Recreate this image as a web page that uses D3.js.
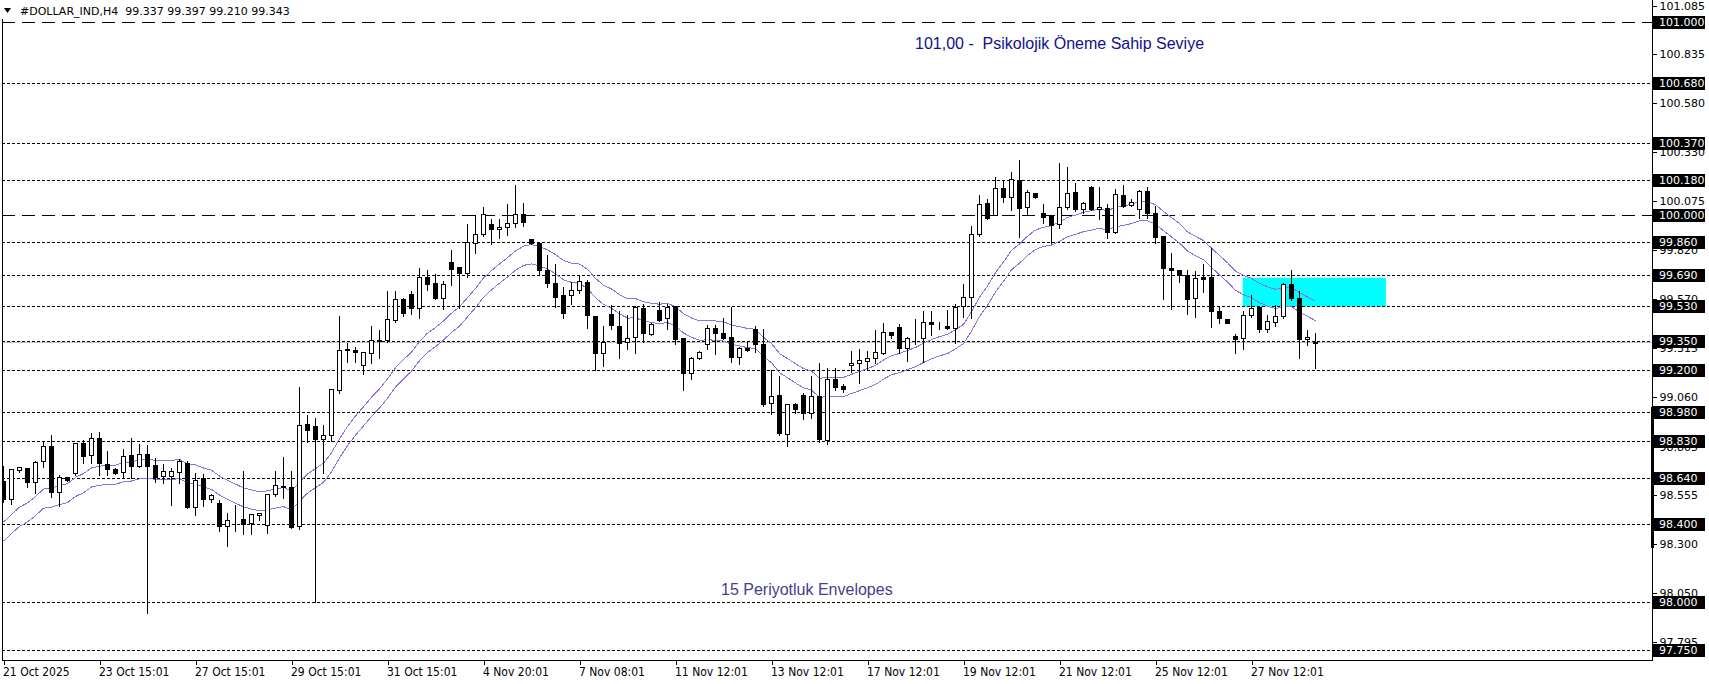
<!DOCTYPE html>
<html><head><meta charset="utf-8">
<script src="https://cdn.jsdelivr.net/npm/d3@7"></script>
<style>
html,body{margin:0;padding:0;background:#fff;overflow:hidden}
svg{display:block}
</style></head><body>
<svg id="chart" width="1709" height="684"></svg>
<script>
// ---------- DATA ----------
const symbolTitle = "#DOLLAR_IND,H4  99.337 99.397 99.210 99.343";
const opens = [98.624,98.530,98.681,98.690,98.621,98.725,98.806,98.569,98.647,98.664,98.823,98.759,98.846,98.711,98.685,98.669,98.759,98.704,98.764,98.707,
98.652,98.652,98.673,98.719,98.492,98.638,98.530,98.509,98.391,98.426,98.426,98.408,98.446,98.395,98.555,98.595,98.595,98.391,98.917,98.908,
98.839,98.860,99.093,99.305,99.300,99.222,99.284,99.350,99.352,99.455,99.564,99.590,99.517,99.679,99.646,99.572,99.759,99.731,99.698,99.857,
99.900,99.952,99.926,99.940,99.960,100.003,99.874,99.857,99.715,99.646,99.584,99.584,99.610,99.653,99.477,99.284,99.486,99.426,99.343,99.369,
99.521,99.386,99.507,99.465,99.529,99.362,99.181,99.262,99.331,99.417,99.391,99.369,99.267,99.310,99.409,99.331,99.029,99.069,98.869,99.021,
99.069,98.977,99.064,98.834,99.150,99.114,99.222,99.236,99.245,99.262,99.288,99.395,99.421,99.314,99.362,99.362,99.446,99.431,99.426,99.414,
99.529,99.576,99.900,100.060,100.002,100.138,100.090,100.181,100.043,100.112,100.009,99.995,99.952,100.043,100.116,100.029,100.145,100.029,100.038,99.914,
100.104,100.052,100.029,100.121,100.009,99.891,99.724,99.715,99.688,99.569,99.679,99.679,99.503,99.460,99.374,99.365,99.481,99.526,99.409,99.448,
99.478,99.645,99.569,99.357,99.337];
const highs = [98.707,98.685,98.695,98.699,98.733,98.830,98.868,98.659,98.650,98.828,98.840,98.875,98.884,98.785,98.695,98.794,98.854,98.823,98.816,98.747,
98.719,98.699,98.742,98.733,98.673,98.668,98.564,98.530,98.463,98.503,98.681,98.455,98.460,98.558,98.681,98.753,98.681,99.115,98.972,98.955,
98.917,99.107,99.483,99.345,99.322,99.296,99.431,99.409,99.612,99.612,99.576,99.612,99.730,99.720,99.700,99.664,99.822,99.733,99.960,100.003,
100.047,99.983,99.986,100.060,100.159,100.067,99.877,99.862,99.796,99.750,99.633,99.659,99.688,99.667,99.483,99.431,99.538,99.507,99.486,99.533,
99.546,99.448,99.555,99.547,99.535,99.365,99.271,99.300,99.434,99.434,99.472,99.529,99.322,99.352,99.431,99.414,99.202,99.172,99.024,99.033,
99.084,99.172,99.241,99.214,99.215,99.129,99.302,99.310,99.302,99.409,99.446,99.400,99.440,99.374,99.469,99.509,99.509,99.452,99.515,99.543,
99.650,99.947,100.107,100.086,100.202,100.185,100.228,100.288,100.133,100.116,100.060,100.000,100.276,100.254,100.171,100.072,100.154,100.150,100.064,100.141,
100.162,100.085,100.136,100.147,100.050,99.895,99.809,99.719,99.722,99.714,99.750,99.834,99.533,99.469,99.391,99.509,99.590,99.529,99.486,99.538,
99.653,99.719,99.610,99.409,99.397];
const lows = [98.517,98.505,98.673,98.595,98.561,98.699,98.543,98.495,98.626,98.656,98.716,98.716,98.656,98.656,98.661,98.638,98.638,98.694,97.942,98.621,
98.616,98.500,98.612,98.483,98.448,98.495,98.517,98.365,98.288,98.365,98.348,98.348,98.420,98.357,98.546,98.538,98.379,98.374,98.827,98.000,
98.667,98.831,99.081,99.241,99.241,99.179,99.236,99.262,99.343,99.448,99.478,99.486,99.469,99.610,99.564,99.512,99.638,99.521,99.679,99.805,
99.891,99.848,99.883,99.897,99.940,99.943,99.848,99.688,99.629,99.526,99.469,99.541,99.598,99.414,99.196,99.219,99.409,99.258,99.308,99.288,
99.345,99.379,99.452,99.409,99.334,99.093,99.150,99.253,99.309,99.279,99.357,99.241,99.231,99.296,99.293,99.012,98.972,98.862,98.805,98.974,
98.943,98.948,98.826,98.817,99.095,99.084,99.190,99.133,99.202,99.236,99.279,99.365,99.288,99.245,99.331,99.240,99.377,99.409,99.409,99.336,
99.474,99.469,99.891,99.978,99.998,100.069,100.024,99.888,99.998,100.086,99.960,99.857,99.934,100.033,100.021,100.012,100.024,99.978,99.883,99.905,
100.041,100.047,99.986,99.986,99.853,99.567,99.515,99.655,99.486,99.474,99.603,99.422,99.440,99.440,99.288,99.309,99.474,99.396,99.396,99.426,
99.469,99.560,99.262,99.328,99.210];
const closes = [98.530,98.685,98.695,98.621,98.721,98.806,98.569,98.647,98.630,98.820,98.751,98.846,98.716,98.685,98.668,98.751,98.704,98.763,98.704,98.647,
98.678,98.676,98.728,98.488,98.630,98.530,98.550,98.391,98.420,98.426,98.403,98.451,98.457,98.555,98.601,98.597,98.386,98.912,98.888,98.839,
98.860,99.098,99.300,99.300,99.293,99.291,99.352,99.354,99.460,99.564,99.495,99.517,99.679,99.641,99.572,99.641,99.722,99.698,99.862,99.900,
100.003,99.929,99.940,99.957,100.003,99.965,99.853,99.714,99.650,99.577,99.495,99.612,99.659,99.481,99.288,99.345,99.429,99.336,99.362,99.526,
99.388,99.434,99.457,99.524,99.357,99.184,99.262,99.293,99.417,99.391,99.365,99.267,99.310,99.300,99.331,99.024,99.064,98.871,99.021,98.998,
98.974,99.064,98.839,99.150,99.112,99.102,99.234,99.248,99.259,99.290,99.395,99.381,99.310,99.362,99.364,99.446,99.434,99.431,99.414,99.526,
99.578,99.900,100.055,99.986,100.138,100.090,100.185,100.038,100.119,100.090,99.991,99.948,100.043,100.112,100.029,100.064,100.029,100.043,99.912,100.107,
100.047,100.069,100.121,100.012,99.888,99.728,99.714,99.688,99.564,99.672,99.671,99.503,99.469,99.443,99.360,99.481,99.517,99.412,99.452,99.478,
99.645,99.572,99.357,99.369,99.343];

const xLabels = ["21 Oct 2025","23 Oct 15:01","27 Oct 15:01","29 Oct 15:01","31 Oct 15:01","4 Nov 20:01","7 Nov 08:01",
  "11 Nov 12:01","13 Nov 12:01","17 Nov 12:01","19 Nov 12:01","21 Nov 12:01","25 Nov 12:01","27 Nov 12:01"];
const xLabelBars = [0,12,24,36,48,60,72,84,96,108,120,132,144,156];
const priceTicks = [101.085,100.835,100.580,100.330,100.075,99.820,99.570,99.315,99.060,98.805,98.555,98.300,98.050,97.795];
const levelLines = [101.000,100.680,100.370,100.180,100.000,99.860,99.690,99.530,99.350,99.200,98.980,98.830,98.640,98.400,98.000,97.750];
const psychoLevels = [101.000,100.000];
const bidPrice = 99.343;
const envelopePeriod = 15;
const envelopeDeviationPct = 0.05;
const envelopeStart = 98.362;       // EMA value at the first visible bar
const zoneBars = [154.9, 172.8];
const zonePrices = [99.525, 99.675];
const noteTop = "101,00 -  Psikolojik Öneme Sahip Seviye";
const noteBottom = "15 Periyotluk Envelopes";

// ---------- LAYOUT ----------
const W = 1709, H = 684;
const plotRight = 1652, plotBottom = 660;
const svg = d3.select("#chart");
const n = closes.length;

const x = d3.scaleLinear().domain([0, 164]).range([3.5, 3.5 + 8 * 164]);
const y = d3.scaleLinear().domain([97.75, 101.0]).range([650.05, 21.5]);
const py = v => Math.round(y(v)) + 0.5;

svg.append("rect").attr("width", W).attr("height", H).attr("fill", "#fff");

svg.append("defs").append("clipPath").attr("id", "plotclip")
  .append("rect").attr("x", 2).attr("y", 0).attr("width", plotRight - 2).attr("height", plotBottom);

const plot = svg.append("g").attr("clip-path", "url(#plotclip)");

// zone
plot.append("rect")
  .attr("x", x(zoneBars[0])).attr("width", x(zoneBars[1]) - x(zoneBars[0]))
  .attr("y", y(zonePrices[1])).attr("height", y(zonePrices[0]) - y(zonePrices[1]))
  .attr("fill", "#00FFFF");

// level lines
plot.selectAll("line.level").data(levelLines).join("line")
  .attr("class", "level")
  .attr("x1", 2).attr("x2", plotRight)
  .attr("y1", d => py(d)).attr("y2", d => py(d))
  .attr("stroke", "#000").attr("stroke-width", 1)
  .attr("shape-rendering", "crispEdges")
  .attr("stroke-dasharray", d => psychoLevels.includes(d) ? "13,7" : "3,2");

// bid line
plot.append("line")
  .attr("x1", 2).attr("x2", plotRight)
  .attr("y1", py(bidPrice)).attr("y2", py(bidPrice))
  .attr("stroke", "#C0C0C0").attr("stroke-width", 1).attr("shape-rendering", "crispEdges");

// envelopes: EMA(15) of close, +/- deviation
const alpha = 2 / (envelopePeriod + 1);
const mid = [];
closes.forEach((c, i) => {
  mid.push(i === 0 ? envelopeStart : mid[i - 1] + alpha * (c - mid[i - 1]));
});
const upper = mid.map(m => m * (1 + envelopeDeviationPct / 100));
const lower = mid.map(m => m * (1 - envelopeDeviationPct / 100));
const envLine = d3.line().x((d, i) => x(i)).y(d => y(d));
[upper, lower].forEach(arr => {
  plot.append("path").datum(arr).attr("d", envLine)
    .attr("fill", "none").attr("stroke", "#9370DB").attr("stroke-width", 1)
    .attr("shape-rendering", "crispEdges");
});

// candles
const idx = d3.range(n);
const cg = plot.append("g").attr("shape-rendering", "crispEdges");
cg.selectAll("line.wick").data(idx).join("line")
  .attr("x1", i => x(i)).attr("x2", i => x(i))
  .attr("y1", i => py(highs[i])).attr("y2", i => py(lows[i]) + 0.5)
  .attr("stroke", "#000").attr("stroke-width", 1);
cg.selectAll("rect.body").data(idx).join("rect")
  .attr("x", i => x(i) - 2).attr("width", 4)
  .attr("y", i => py(Math.max(opens[i], closes[i])))
  .attr("height", i => Math.max(0, py(Math.min(opens[i], closes[i])) - py(Math.max(opens[i], closes[i]))))
  .attr("fill", i => closes[i] >= opens[i] ? "#fff" : "#000")
  .attr("stroke", "#000").attr("stroke-width", 1);

// annotations
svg.append("text").text(noteTop)
  .attr("x", 915).attr("y", 43).attr("dy", "0.35em")
  .style("white-space", "pre")
  .attr("font-family", "'Liberation Sans', Arial, sans-serif").attr("font-size", 16)
  .attr("fill", "#10108c");
svg.append("text").text(noteBottom)
  .attr("x", 721).attr("y", 589).attr("dy", "0.35em")
  .attr("font-family", "'Liberation Sans', Arial, sans-serif").attr("font-size", 16)
  .attr("fill", "#483D8B");

// frame
svg.append("rect").attr("x", 0).attr("y", 0).attr("width", 300).attr("height", 19).attr("fill", "#fff");
svg.append("line").attr("x1", 2.5).attr("x2", 2.5).attr("y1", 19).attr("y2", plotBottom)
  .attr("stroke", "#000").attr("shape-rendering", "crispEdges");
svg.append("line").attr("x1", 2).attr("x2", plotRight + 1).attr("y1", plotBottom + 0.5).attr("y2", plotBottom + 0.5)
  .attr("stroke", "#000").attr("shape-rendering", "crispEdges");
svg.append("line").attr("x1", plotRight + 0.5).attr("x2", plotRight + 0.5).attr("y1", 0).attr("y2", plotBottom + 1)
  .attr("stroke", "#000").attr("shape-rendering", "crispEdges");
svg.append("rect").attr("x", plotRight - 1).attr("y", 407).attr("width", 3).attr("height", 141).attr("fill", "#000");

// header
svg.append("path").attr("d", "M4,8 L11,8 L7.5,13 Z").attr("fill", "#000");
svg.append("text").text(symbolTitle)
  .attr("x", 20).attr("y", 11).attr("dy", "0.35em")
  .style("white-space", "pre")
  .attr("font-family", "'DejaVu Sans', sans-serif").attr("font-size", 11).attr("fill", "#000");

// right axis
const yAxis = d3.axisRight(y).tickValues(priceTicks).tickSize(4).tickPadding(3).tickFormat(d3.format(".3f"));
const ya = svg.append("g").attr("transform", `translate(${plotRight + 0.5},0.5)`).call(yAxis);
ya.select(".domain").remove();
ya.selectAll("text").attr("font-family", "'DejaVu Sans', sans-serif").attr("font-size", 11).attr("fill", "#000");
ya.selectAll("line").attr("shape-rendering", "crispEdges");

// level labels
const lg = svg.append("g");
levelLines.forEach(v => {
  lg.append("rect").attr("x", plotRight + 1).attr("y", Math.round(y(v)) - 6).attr("width", 52).attr("height", 13).attr("fill", "#000");
  lg.append("text").text(d3.format(".3f")(v))
    .attr("x", plotRight + 7).attr("y", Math.round(y(v)) + 0.5).attr("dy", "0.35em")
    .attr("font-family", "'DejaVu Sans', sans-serif").attr("font-size", 11).attr("fill", "#fff");
});

// bottom axis
const xAxis = d3.axisBottom(x).tickValues(xLabelBars).tickSize(4)
  .tickFormat((d, i) => xLabels[i]);
const xa = svg.append("g").attr("transform", `translate(0,${plotBottom + 0.5})`).call(xAxis);
xa.select(".domain").remove();
xa.selectAll("line").attr("shape-rendering", "crispEdges");
xa.selectAll("text").attr("text-anchor", "start").attr("dx", "-1").attr("y", 7).attr("dy", "0.71em")
  .attr("font-family", "'DejaVu Sans Condensed', 'DejaVu Sans', sans-serif").style("font-stretch", "condensed")
  .attr("font-size", 12).attr("fill", "#000");
</script>
</body></html>
